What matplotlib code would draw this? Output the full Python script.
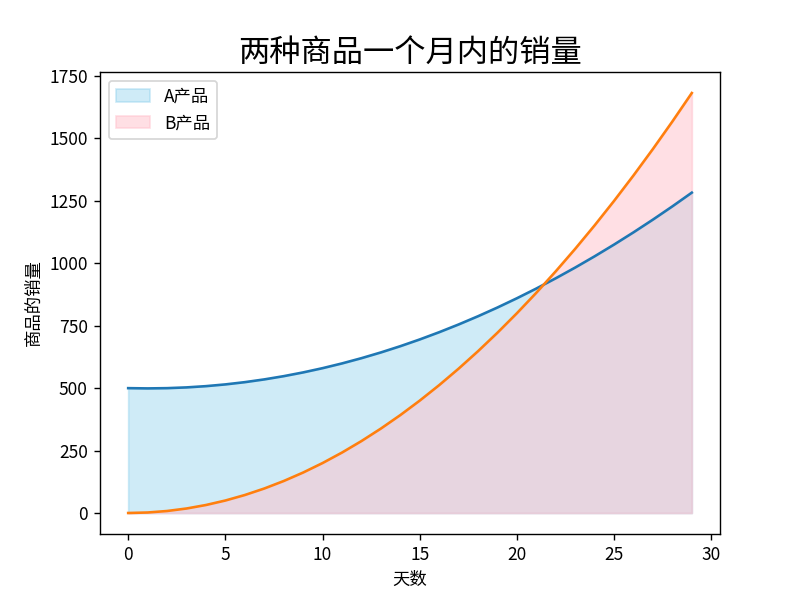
import matplotlib
matplotlib.use("Agg")
import matplotlib.pyplot as plt

plt.rcParams['font.family'] = ['Noto Sans CJK SC', 'DejaVu Sans']
plt.rcParams['axes.unicode_minus'] = False

days = list(range(30))
sales_a = [500, 499, 500, 503, 508, 515, 524, 535, 548, 563, 580, 599, 620, 643, 668,
           695, 724, 755, 788, 823, 860, 899, 940, 983, 1028, 1075, 1124, 1175, 1228, 1283]
sales_b = [0, 2, 8, 18, 32, 50, 72, 98, 128, 162, 200, 242, 288, 338, 392,
           450, 512, 578, 648, 722, 800, 882, 968, 1058, 1152, 1250, 1352, 1458, 1568, 1682]

fig, ax = plt.subplots(figsize=(6.4, 4.8), dpi=125)
ax.plot(days, sales_a)
ax.plot(days, sales_b)
ax.fill_between(days, sales_a, color='skyblue', alpha=0.4, label='A产品')
ax.fill_between(days, sales_b, color='pink', alpha=0.5, label='B产品')
ax.set_title('两种商品一个月内的销量', fontsize=18)
ax.set_xlabel('天数')
ax.set_ylabel('商品的销量')
ax.legend(loc='upper left')
fig.savefig('out.png', dpi=125)
